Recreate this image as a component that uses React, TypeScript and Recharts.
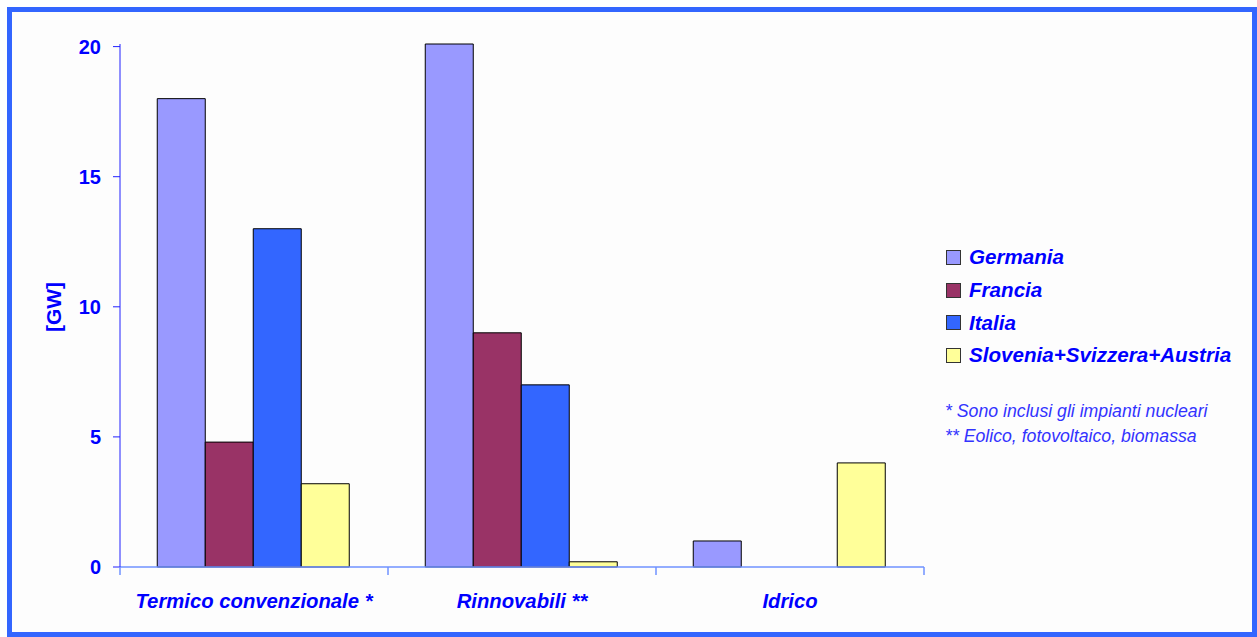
import { Bar, BarChart, XAxis, YAxis } from 'recharts';

const categories = ['Termico convenzionale *', 'Rinnovabili **', 'Idrico'];
const germania = [18, 20.1, 1];
const francia = [4.8, 9, 0];
const italia = [13, 7, 0];
const slovSvizAus = [3.2, 0.2, 4];
const yTicks = [0, 5, 10, 15, 20];
const seriesNames = ['Germania', 'Francia', 'Italia', 'Slovenia+Svizzera+Austria'];
const seriesColors = ['#9999FF', '#993366', '#3366FF', '#FFFF99'];
const notes = ['* Sono inclusi gli impianti nucleari', '** Eolico, fotovoltaico, biomassa'];

const seriesValues = [germania, francia, italia, slovSvizAus];
const keys = ['s0', 's1', 's2', 's3'];

const data = categories.map((name, i) => {
    const row: Record<string, string | number> = { name };
    seriesValues.forEach((vals, s) => {
        row[keys[s]] = vals[i];
    });
    return row;
});

const CHART_W = 1257;
const CHART_H = 637;
const margin = { top: 44, right: 333, bottom: 0, left: 0 };
const Y_AXIS_W = 120;
const X_AXIS_H = 70;
const PLOT_W = CHART_W - margin.left - margin.right - Y_AXIS_W;
const BAND = PLOT_W / categories.length;

const FONT = '"Liberation Sans", Arial, sans-serif';
const BLUE = '#0000FF';
const AXIS_X_COLOR = '#6F92FF';

function CategoryTick(props: any) {
    const { x, y, payload, index } = props;
    const left = x - BAND / 2;
    const right = x + BAND / 2;
    return (
        <g>
            <line x1={left} y1={y} x2={left} y2={y + 8} stroke={AXIS_X_COLOR} strokeWidth={1.5} />
            {index === categories.length - 1 && (
                <line x1={right} y1={y} x2={right} y2={y + 8} stroke={AXIS_X_COLOR} strokeWidth={1.5} />
            )}
            <text
                x={x}
                y={y + 41}
                textAnchor="middle"
                fill={BLUE}
                fontFamily={FONT}
                fontSize={20.3}
                fontWeight="bold"
                fontStyle="italic"
            >
                {payload.value}
            </text>
        </g>
    );
}

export default function App() {
    return (
        <div
            style={{
                position: 'absolute',
                left: 0,
                top: 0,
                width: CHART_W,
                height: CHART_H,
                overflow: 'hidden',
                background: '#ffffff',
                fontFamily: FONT,
            }}
        >
            <div
                style={{
                    position: 'absolute',
                    left: 7,
                    top: 7,
                    width: 1250,
                    height: 630,
                    boxSizing: 'border-box',
                    border: '5px solid #3366FF',
                    background: '#FDFDFD',
                }}
            />
            <div style={{ position: 'absolute', left: 0, top: 0 }}>
                <BarChart
                    width={CHART_W}
                    height={CHART_H}
                    data={data}
                    margin={margin}
                    barCategoryGap="13.9%"
                    barGap={0}
                >
                    <XAxis
                        dataKey="name"
                        height={X_AXIS_H}
                        axisLine={{ stroke: AXIS_X_COLOR, strokeWidth: 1.5 }}
                        tickLine={false}
                        tickSize={0}
                        tickMargin={0}
                        interval={0}
                        tick={<CategoryTick />}
                    />
                    <YAxis
                        width={Y_AXIS_W}
                        domain={[0, 'dataMax']}
                        ticks={yTicks}
                        axisLine={{ stroke: '#2020FF' }}
                        tickLine={{ stroke: '#2020FF' }}
                        tickSize={7}
                        tickMargin={12}
                        tick={{ fill: BLUE, fontSize: 20, fontWeight: 'bold', fontFamily: FONT }}
                    />
                    {keys.map((k, s) => (
                        <Bar
                            key={k}
                            dataKey={k}
                            name={seriesNames[s]}
                            fill={seriesColors[s]}
                            stroke="#000000"
                            strokeWidth={1}
                            isAnimationActive={false}
                        />
                    ))}
                </BarChart>
            </div>
            <div
                style={{
                    position: 'absolute',
                    left: 54,
                    top: 307,
                    transform: 'translate(-50%, -50%) rotate(-90deg)',
                    color: BLUE,
                    fontSize: 21,
                    fontWeight: 'bold',
                    whiteSpace: 'nowrap',
                }}
            >
                [GW]
            </div>
            <div style={{ position: 'absolute', left: 946, top: 241 }}>
                {seriesNames.map((n, s) => (
                    <div key={n} style={{ display: 'flex', alignItems: 'center', height: 32.7 }}>
                        <div
                            style={{
                                width: 13,
                                height: 13,
                                background: seriesColors[s],
                                border: '1px solid #333333',
                                marginRight: 8,
                            }}
                        />
                        <span
                            style={{
                                color: BLUE,
                                fontSize: 20.6,
                                fontWeight: 'bold',
                                fontStyle: 'italic',
                                whiteSpace: 'nowrap',
                            }}
                        >
                            {n}
                        </span>
                    </div>
                ))}
            </div>
            <div style={{ position: 'absolute', left: 945, top: 399 }}>
                {notes.map((t) => (
                    <div
                        key={t}
                        style={{
                            color: '#3333FF',
                            fontSize: 17.7,
                            fontStyle: 'italic',
                            lineHeight: '25px',
                            whiteSpace: 'nowrap',
                        }}
                    >
                        {t}
                    </div>
                ))}
            </div>
        </div>
    );
}
